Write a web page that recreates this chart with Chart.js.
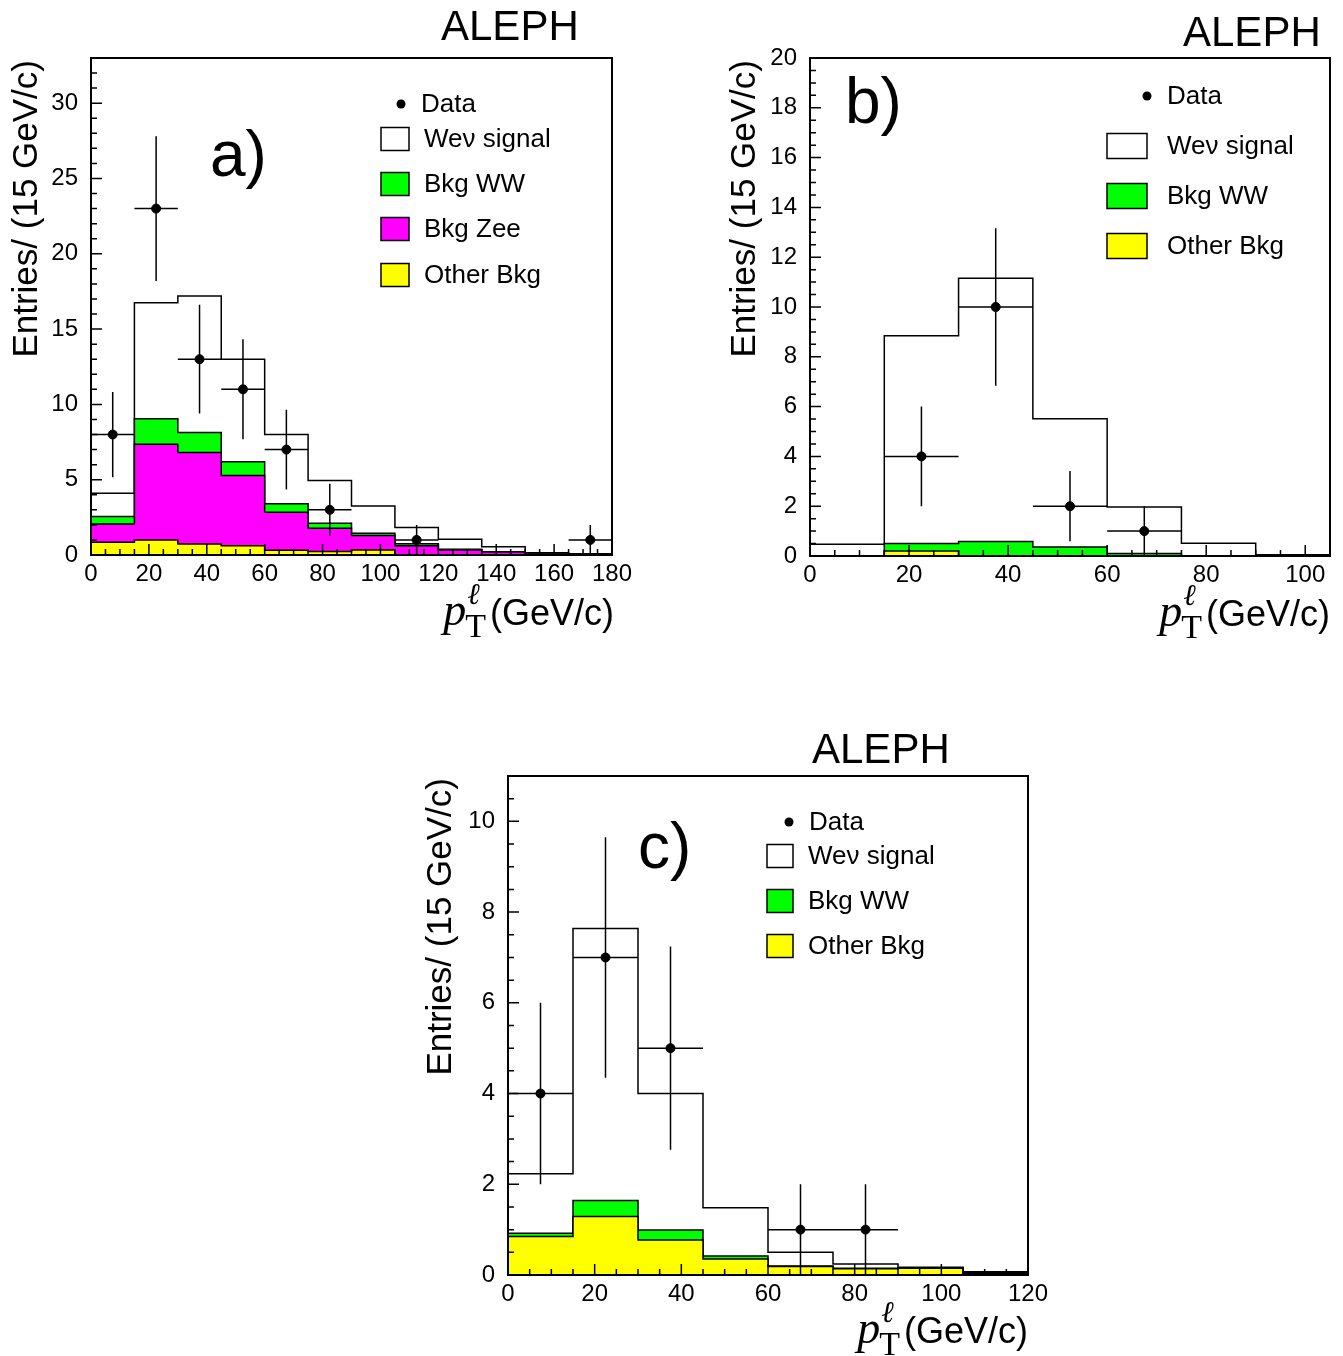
<!DOCTYPE html>
<html>
<head>
<meta charset="utf-8">
<script src="https://cdn.jsdelivr.net/npm/chart.js@4"></script>
<style>
  body { margin: 0; background: #fff; }
  #wrap { position: relative; width: 1343px; height: 1356px; }
  canvas { position: absolute; }
</style>
</head>
<body>
<div id="wrap">
  <canvas id="chart-a" width="660" height="650" style="left:0px;top:0px"></canvas>
  <canvas id="chart-b" width="643" height="650" style="left:700px;top:0px"></canvas>
  <canvas id="chart-c" width="700" height="656" style="left:400px;top:700px"></canvas>
</div>
<script>
const SANS = "'Liberation Sans', Arial, sans-serif";
const SERIF = "'Liberation Serif', 'Times New Roman', serif";

// ---- a) bins of 15 GeV/c, 0-180
const edgesA = [0, 15, 30, 45, 60, 75, 90, 105, 120, 135, 150, 165, 180];
const dataA = [8, 23, 13, 11, 7, 3, 0, 1, 0, 0, 0, 1];
const errA = [2.83, 4.8, 3.61, 3.32, 2.65, 1.73, 0, 1, 0, 0, 0, 1];
const otherA = [0.84, 1.0, 0.73, 0.62, 0.31, 0.24, 0.33, 0, 0, 0, 0, 0];
const zeeA = [1.22, 6.36, 6.08, 4.66, 2.53, 1.53, 0.96, 0.62, 0.33, 0.2, 0.05, 0];
const wwA = [0.49, 1.69, 1.33, 0.91, 0.57, 0.33, 0.15, 0.13, 0.05, 0.02, 0.01, 0];
const signalA = [1.55, 7.7, 9.06, 6.81, 4.59, 2.85, 1.82, 1.07, 0.66, 0.33, 0.09, 0.08];

// ---- b) 0-105
const edgesB = [0, 15, 30, 45, 60, 75, 90, 105];
const dataB = [0, 4, 10, 2, 1, 0, 0];
const errB = [0, 2, 3.16, 1.41, 1, 0, 0];
const otherB = [0, 0.2, 0, 0, 0, 0, 0];
const wwB = [0, 0.3, 0.58, 0.36, 0.1, 0, 0];
const signalB = [0.47, 8.35, 10.57, 5.15, 1.87, 0.51, 0.05];

// ---- c) 0-120
const edgesC = [0, 15, 30, 45, 60, 75, 90, 105, 120];
const dataC = [4, 7, 5, 0, 1, 1, 0, 0];
const errC = [2, 2.65, 2.24, 0, 1, 1, 0, 0];
const otherC = [0.85, 1.29, 0.77, 0.35, 0.19, 0.14, 0.15, 0.04];
const wwC = [0.07, 0.35, 0.22, 0.07, 0.01, 0.01, 0.01, 0.01];
const signalC = [1.31, 6.0, 3.01, 1.06, 0.3, 0.09, 0.01, 0.02];

const legendA = ['Data', 'Weν signal', 'Bkg WW', 'Bkg Zee', 'Other Bkg'];
const legendB = ['Data', 'Weν signal', 'Bkg WW', 'Other Bkg'];

const GREEN = '#00ff00', MAGENTA = '#ff00ff', YELLOW = '#ffff00';

const addArr = (a, b) => a.map((v, i) => v + b[i]);
const steps = (edges, vals) => {
  const pts = vals.map((v, i) => ({ x: edges[i], y: v }));
  pts.push({ x: edges[edges.length - 1], y: vals[vals.length - 1] });
  return pts;
};
const histDs = (edges, vals, color) => ({
  data: steps(edges, vals),
  stepped: true,
  fill: 'origin',
  backgroundColor: color,
  borderColor: '#000',
  borderWidth: 1.5,
  pointRadius: 0,
  tension: 0
});
const pointsDs = (edges, vals) => ({
  data: vals.map((v, i) => ({ x: (edges[i] + edges[i + 1]) / 2, y: v })).filter(p => p.y > 0),
  showLine: false,
  pointRadius: 4.5,
  pointBackgroundColor: '#000',
  pointBorderColor: '#000',
  borderColor: '#000'
});

// ROOT-like frame, inner ticks, error bars, texts and legend
const rootStyle = {
  id: 'rootStyle',
  afterDatasetsDraw(chart) {
    const p = chart.options.plugins.rootStyle;
    const { ctx, chartArea: a, scales: { x, y } } = chart;
    ctx.save();
    ctx.strokeStyle = '#000';
    // error bars
    ctx.lineWidth = 1.5;
    p.data.forEach((n, i) => {
      if (n <= 0) return;
      const lo = p.edges[i], hi = p.edges[i + 1], c = (lo + hi) / 2;
      const px = x.getPixelForValue(c), py = y.getPixelForValue(n);
      ctx.beginPath();
      ctx.moveTo(x.getPixelForValue(lo), py);
      ctx.lineTo(Math.min(x.getPixelForValue(hi), a.right), py);
      ctx.moveTo(px, y.getPixelForValue(n - p.err[i]));
      ctx.lineTo(px, y.getPixelForValue(n + p.err[i]));
      ctx.stroke();
    });
    // ticks
    ctx.lineWidth = 1.5;
    ctx.beginPath();
    const nx = Math.round((x.max - x.min) / p.xMinor);
    for (let k = 0; k <= nx; k++) {
      const v = x.min + k * p.xMinor;
      const len = Math.abs(v / p.xMajor - Math.round(v / p.xMajor)) < 1e-6 ? 11 : 6;
      const px = x.getPixelForValue(v);
      ctx.moveTo(px, a.bottom);
      ctx.lineTo(px, a.bottom - len);
    }
    const ny = Math.round((y.max - y.min) / p.yMinor);
    for (let k = 0; k <= ny; k++) {
      const v = y.min + k * p.yMinor;
      const len = Math.abs(v / p.yMajor - Math.round(v / p.yMajor)) < 1e-6 ? 11 : 6;
      const py = y.getPixelForValue(v);
      ctx.moveTo(a.left, py);
      ctx.lineTo(a.left + len, py);
    }
    ctx.stroke();
    // frame
    ctx.lineWidth = 2;
    ctx.strokeRect(a.left, a.top, a.right - a.left, a.bottom - a.top);
    ctx.restore();
  },
  afterDraw(chart) {
    const p = chart.options.plugins.rootStyle;
    const { ctx } = chart;
    ctx.save();
    ctx.fillStyle = '#000';
    ctx.textAlign = 'left';
    ctx.textBaseline = 'alphabetic';
    ctx.font = '42px ' + SANS;
    ctx.fillText('ALEPH', p.aleph[0], p.aleph[1]);
    ctx.font = '64px ' + SANS;
    ctx.fillText(p.letter[0], p.letter[1], p.letter[2]);

    // y title
    ctx.save();
    ctx.translate(p.yTitle[0], p.yTitle[1]);
    ctx.rotate(-Math.PI / 2);
    ctx.textAlign = 'right';
    ctx.textBaseline = 'middle';
    ctx.font = '35px ' + SANS;
    ctx.fillText('Entries/ (15 GeV/c)', 0, 0);
    ctx.restore();

    // x title  p_T^l (GeV/c)
    const [right, base] = p.xTitle;
    ctx.font = '36px ' + SANS;
    const wu = ctx.measureText('(GeV/c)').width;
    ctx.fillText('(GeV/c)', right - wu, base);
    ctx.font = '34px ' + SERIF;
    const wT = ctx.measureText('T').width;
    const xs = right - wu - 4 - wT;
    ctx.fillText('T', xs, base + 12);
    ctx.font = 'italic 30px ' + SERIF;
    ctx.fillText('ℓ', xs + 2, base - 21);
    ctx.font = 'italic 46px ' + SERIF;
    const wp = ctx.measureText('p').width;
    ctx.fillText('p', xs - wp + 1, base);

    // legend
    const L = p.legend;
    ctx.font = '26px ' + SANS;
    ctx.textBaseline = 'middle';
    ctx.beginPath();
    ctx.arc(L.dot[0], L.dot[1], 4.5, 0, Math.PI * 2);
    ctx.fill();
    ctx.fillText(p.labels[0], L.dot[0] + 20, L.dot[1] + 1);
    ctx.lineWidth = 1.5;
    ctx.strokeStyle = '#000';
    p.labels.slice(1).forEach((lab, i) => {
      const cy = L.rows[i];
      ctx.fillStyle = p.colors[i];
      ctx.fillRect(L.box[0], cy - L.box[2] / 2, L.box[1], L.box[2]);
      ctx.strokeRect(L.box[0], cy - L.box[2] / 2, L.box[1], L.box[2]);
      ctx.fillStyle = '#000';
      ctx.fillText(lab, L.textX, cy + 1);
    });
    ctx.restore();
  }
};

const makePanel = (id, cfg) => {
  const axisFont = { family: SANS, size: 24 };
  return new Chart(document.getElementById(id), {
    type: 'line',
    data: { datasets: cfg.datasets },
    options: {
      responsive: false,
      animation: false,
      layout: { padding: { left: 0, top: cfg.padTop, right: cfg.padRight, bottom: 0 } },
      plugins: {
        legend: { display: false },
        tooltip: { enabled: false },
        rootStyle: cfg.style
      },
      scales: {
        x: {
          type: 'linear', min: 0, max: cfg.xMax,
          grid: { display: false, drawTicks: false },
          border: { display: false },
          ticks: { stepSize: 20, includeBounds: false, padding: 5, color: '#000', font: axisFont, maxRotation: 0, autoSkip: false },
          afterFit: s => { s.height = cfg.xAxisH; }
        },
        y: {
          type: 'linear', min: 0, max: cfg.yMax,
          grid: { display: false, drawTicks: false },
          border: { display: false },
          ticks: { stepSize: cfg.yStep, includeBounds: false, padding: 13, color: '#000', font: axisFont, autoSkip: false },
          afterFit: s => { s.width = cfg.yAxisW; }
        }
      }
    },
    plugins: [rootStyle]
  });
};

// a)
const zeeTopA = addArr(otherA, zeeA);
const wwTopA = addArr(zeeTopA, wwA);
makePanel('chart-a', {
  xMax: 180, yMax: 33, yStep: 5,
  padTop: 58, padRight: 48, xAxisH: 95, yAxisW: 91,
  datasets: [
    pointsDs(edgesA, dataA),
    histDs(edgesA, otherA, YELLOW),
    histDs(edgesA, zeeTopA, MAGENTA),
    histDs(edgesA, wwTopA, GREEN),
    histDs(edgesA, addArr(wwTopA, signalA), '#fff')
  ],
  style: {
    edges: edgesA, data: dataA, err: errA,
    xMinor: 5, xMajor: 20, yMinor: 1, yMajor: 5,
    aleph: [441, 40], letter: ['a)', 210, 176],
    yTitle: [27, 60], xTitle: [614, 625],
    labels: legendA, colors: ['#fff', GREEN, MAGENTA, YELLOW],
    legend: { dot: [401, 104], box: [381, 28, 23], rows: [139, 184, 229, 275], textX: 424 }
  }
});

// b)
const wwTopB = addArr(otherB, wwB);
makePanel('chart-b', {
  xMax: 105, yMax: 20, yStep: 2,
  padTop: 58, padRight: 13, xAxisH: 94, yAxisW: 110,
  datasets: [
    pointsDs(edgesB, dataB),
    histDs(edgesB, otherB, YELLOW),
    histDs(edgesB, wwTopB, GREEN),
    histDs(edgesB, addArr(wwTopB, signalB), '#fff')
  ],
  style: {
    edges: edgesB, data: dataB, err: errB,
    xMinor: 5, xMajor: 20, yMinor: 0.5, yMajor: 2,
    aleph: [483, 46], letter: ['b)', 145, 123],
    yTitle: [45, 60], xTitle: [630, 626],
    labels: legendB, colors: ['#fff', GREEN, YELLOW],
    legend: { dot: [447, 96], box: [407, 40, 25], rows: [146, 196, 246], textX: 467 }
  }
});

// c)
const wwTopC = addArr(otherC, wwC);
makePanel('chart-c', {
  xMax: 120, yMax: 11, yStep: 2,
  padTop: 76, padRight: 72, xAxisH: 81, yAxisW: 108,
  datasets: [
    pointsDs(edgesC, dataC),
    histDs(edgesC, otherC, YELLOW),
    histDs(edgesC, wwTopC, GREEN),
    histDs(edgesC, addArr(wwTopC, signalC), '#fff')
  ],
  style: {
    edges: edgesC, data: dataC, err: errC,
    xMinor: 5, xMajor: 20, yMinor: 0.5, yMajor: 2,
    aleph: [412, 63], letter: ['c)', 238, 168],
    yTitle: [41, 78], xTitle: [628, 643],
    labels: legendB, colors: ['#fff', GREEN, YELLOW],
    legend: { dot: [389, 122], box: [367, 26, 23], rows: [156, 201, 246], textX: 408 }
  }
});
</script>
</body>
</html>
